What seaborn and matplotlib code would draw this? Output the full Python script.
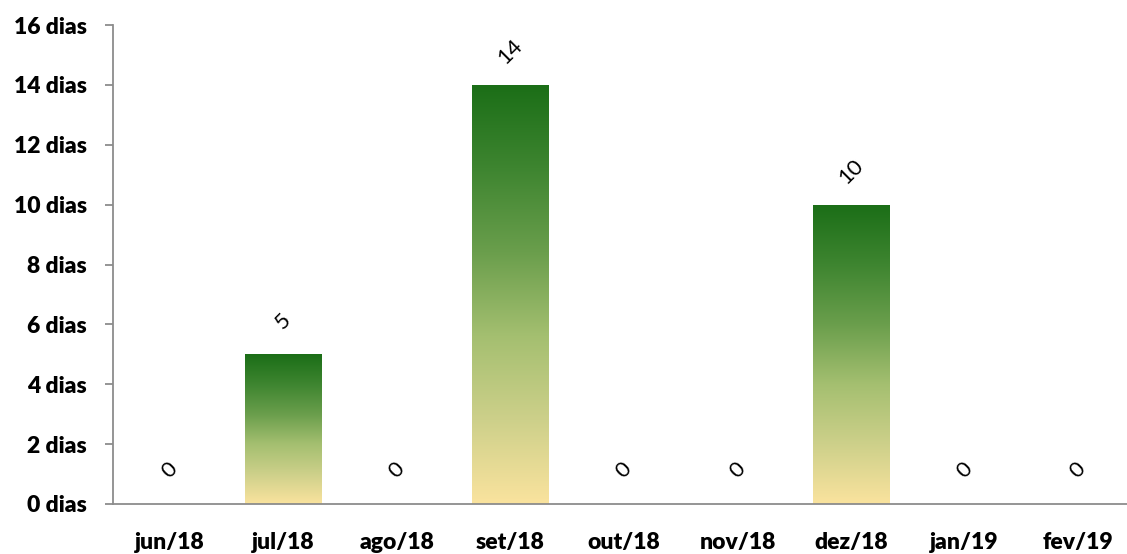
import numpy as np
import pandas as pd
import matplotlib
matplotlib.use("Agg")
import matplotlib.pyplot as plt
import seaborn as sns
from matplotlib.colors import LinearSegmentedColormap

months = ["jun/18", "jul/18", "ago/18", "set/18", "out/18", "nov/18", "dez/18", "jan/19", "fev/19"]
days = [0, 5, 0, 14, 0, 0, 10, 0, 0]
y_ticks = [0, 2, 4, 6, 8, 10, 12, 14, 16]

sns.set_theme(style="white")
plt.rcParams['font.family'] = ['Lato', 'DejaVu Sans']

df = pd.DataFrame({"mes": months, "dias": days})

fig = plt.figure(figsize=(11.27, 5.54), dpi=100)
W, H = 1127, 554
left_px, right_px = 113.25, 1134.75
top_px, bot_px = 25, 504
ax = fig.add_axes([left_px / W, 1 - bot_px / H, (right_px - left_px) / W, (bot_px - top_px) / H])

sns.barplot(data=df, x="mes", y="dias", ax=ax, width=0.67, color="white", saturation=1)

cmap = LinearSegmentedColormap.from_list(
    "grad", ["#FAE39E", "#CDD08A", "#A4BF70", "#6A9E4C", "#3E8530", "#1B6E17"])
grad = np.linspace(0, 1, 256).reshape(-1, 1)
for patch in ax.patches:
    x0, y0 = patch.get_x(), patch.get_y()
    w, h = patch.get_width(), patch.get_height()
    if h <= 0:
        continue
    im = ax.imshow(grad, cmap=cmap, origin="lower", aspect="auto",
                   extent=[x0, x0 + w, y0, y0 + h], zorder=2)
    im.set_clip_path(patch)
    patch.set_edgecolor("none")

ax.set_xlim(-0.5, len(months) - 0.5)
ax.set_ylim(0, 16)
ax.set_yticks(y_ticks)
ax.set_yticklabels([f"{v} dias" for v in y_ticks], fontsize=16.5, fontweight="heavy", color="black")
ax.set_xticks(range(len(months)))
ax.set_xticklabels(months, fontsize=16.5, fontweight="heavy", color="black")
ax.set_xlabel("")
ax.set_ylabel("")

# x ticks between categories
ax.tick_params(axis="x", which="major", length=0, pad=20)
ax.set_xticks(np.arange(-0.5, len(months), 1.0), minor=True)
ax.tick_params(axis="x", which="minor", length=6, color="#8C8C8C", width=1.3, direction="out")
ax.tick_params(axis="y", length=6, color="#8C8C8C", width=1.3, direction="out", pad=13, left=True)

for s in ["top", "right"]:
    ax.spines[s].set_visible(False)
for s in ["left", "bottom"]:
    ax.spines[s].set_color("#8C8C8C")
    ax.spines[s].set_linewidth(1.3)

for i, v in enumerate(days):
    ax.annotate(str(v), (i, v), xytext=(0, 24), textcoords="offset points",
                ha="center", va="center", rotation=45, fontsize=16, color="black",
                annotation_clip=False)

fig.savefig("out.png", dpi=100)
